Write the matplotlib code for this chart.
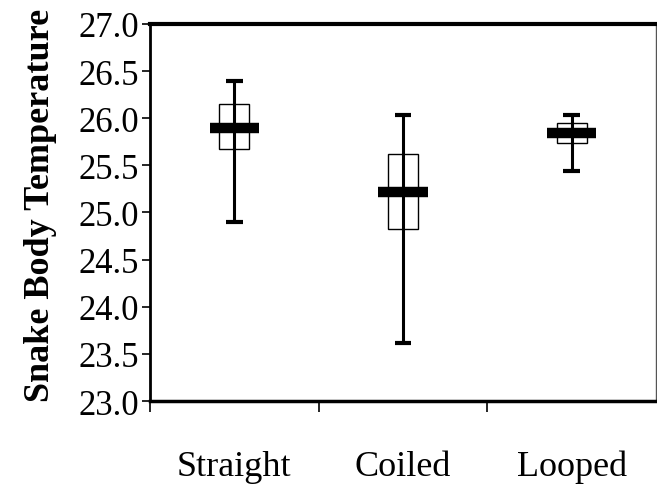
import numpy as np
import matplotlib
matplotlib.use("Agg")
from matplotlib import pyplot as plt

# box values
categories = ["Straight", "Coiled", "Looped"]
high = [26.40, 26.03, 26.03]
q3 = [26.15, 25.62, 25.95]
median = [25.90, 25.22, 25.84]
q1 = [25.67, 24.83, 25.74]
low = [24.90, 23.62, 25.44]

plt.rcParams['font.family'] = ['Liberation Serif', 'DejaVu Serif']

fig = plt.figure(figsize=(6.57, 4.89), dpi=100)
ax = fig.add_axes([0.2283, 0.1779, 0.7702, 0.771])

x = np.arange(len(categories))

# hi-lo lines with caps
ax.vlines(x, low, high, color="black", linewidth=2.2, zorder=2)
ax.hlines(high, x - 0.05, x + 0.05, color="black", linewidth=3, zorder=2)
ax.hlines(low, x - 0.05, x + 0.05, color="black", linewidth=3, zorder=2)

# open boxes between quartiles
ax.bar(x, np.array(q3) - np.array(q1), bottom=q1, width=0.176,
       fill=False, edgecolor="black", linewidth=1.0, zorder=3)

# thick median bars
ax.hlines(median, x - 0.147, x + 0.147, color="black", linewidth=7.5, zorder=4)

ax.set_xlim(-0.5, 2.5)
ax.set_ylim(23.0, 27.0)
ax.set_yticks(np.arange(23.0, 27.01, 0.5))
ax.set_yticklabels(["%.1f" % v for v in np.arange(23.0, 27.01, 0.5)])
ax.tick_params(axis="y", direction="out", length=6, width=1.2, pad=2, labelsize=25)

# category ticks between groups, labels at the centres
ax.set_xticks([-0.5, 0.5, 1.5])
ax.set_xticklabels([])
ax.tick_params(axis="x", which="major", direction="out", length=8, width=1.2)
ax.set_xticks(x, minor=True)
ax.set_xticklabels(categories, minor=True)
ax.tick_params(axis="x", which="minor", length=0, pad=35, labelsize=26)

ax.set_ylabel("Snake Body Temperature", fontsize=26, fontweight="bold")
ax.yaxis.set_label_coords(-0.183, 0.522)

ax.spines["top"].set_linewidth(3)
ax.spines["left"].set_linewidth(2)
ax.spines["bottom"].set_linewidth(2.5)
ax.spines["right"].set_linewidth(1)
ax.spines["right"].set_color("#555555")

fig.savefig("out.png", dpi=100)
